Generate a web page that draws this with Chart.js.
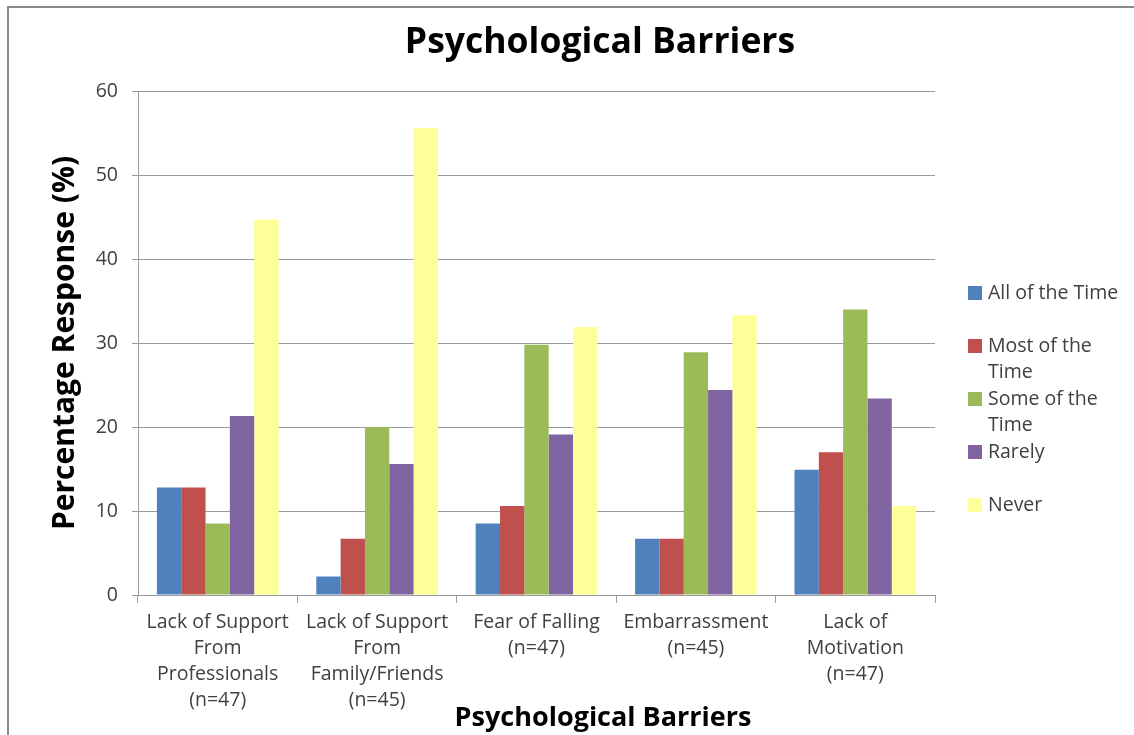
<!DOCTYPE html>
<html>
<head>
<meta charset="utf-8">
<script src="https://cdn.jsdelivr.net/npm/chart.js@4"></script>
<style>
  html, body { margin: 0; padding: 0; background: #fff; }
  #wrap { position: relative; width: 1134px; height: 735px; }
</style>
</head>
<body>
<div id="wrap"><canvas id="barreirasChart" width="1134" height="735"></canvas></div>
<script>
// Categorias (rótulos do eixo X, em várias linhas)
const categories = [
    ['Lack of Support', 'From', 'Professionals', '(n=47)'],
    ['Lack of Support', 'From', 'Family/Friends', '(n=45)'],
    ['Fear of Falling', '(n=47)'],
    ['Embarrassment', '(n=45)'],
    ['Lack of', 'Motivation', '(n=47)'],
];

// Séries (% de respostas)
const seriesNames = ['All of the Time', 'Most of the Time', 'Some of the Time', 'Rarely', 'Never'];
const allOfTheTime = [12.8, 2.2, 8.5, 6.7, 14.9];
const mostOfTheTime = [12.8, 6.7, 10.6, 6.7, 17.0];
const someOfTheTime = [8.5, 20.0, 29.8, 28.9, 34.0];
const rarely = [21.3, 15.6, 19.1, 24.4, 23.4];
const never = [44.7, 55.6, 31.9, 33.3, 10.6];

const yTicks = [0, 10, 20, 30, 40, 50, 60];

const chartTitle = 'Psychological Barriers';
const xTitle = 'Psychological Barriers';
const yTitle = 'Percentage Response (%)';

// Cores do tema
const themeColors = {
    blue: '#4f81bd',
    red: '#c0504d',
    green: '#9bbb59',
    purple: '#8064a2',
    yellow: '#ffff99',
    grid: '#9a9a9a',
    text: '#404040',
    frame: '#8a8a8a',
};

const fontFamily = '"Open Sans", "Noto Sans", sans-serif';
const labelSize = 19.5;

// Quebra o texto da legenda em linhas pela largura
function wrapText(ctx, text, maxWidth) {
    const words = text.split(' ');
    const lines = [];
    let line = '';
    words.forEach((w) => {
        const test = line ? line + ' ' + w : w;
        if (ctx.measureText(test).width > maxWidth && line) {
            lines.push(line);
            line = w;
        } else {
            line = test;
        }
    });
    if (line) lines.push(line);
    return lines;
}

// Moldura, títulos e legenda desenhados à parte
const extrasPlugin = {
    id: 'extras',
    afterDraw(chart) {
        const ctx = chart.ctx;
        ctx.save();

        // moldura (só topo e esquerda aparecem)
        ctx.strokeStyle = themeColors.frame;
        ctx.lineWidth = 2;
        ctx.beginPath();
        ctx.moveTo(8, 740);
        ctx.lineTo(8, 7);
        ctx.lineTo(1140, 7);
        ctx.stroke();

        ctx.fillStyle = '#000';
        ctx.textAlign = 'center';
        ctx.textBaseline = 'middle';
        ctx.font = 'bold 35.5px ' + fontFamily;
        ctx.fillText(chartTitle, 600, 43);

        ctx.font = 'bold 27px ' + fontFamily;
        ctx.fillText(xTitle, 603, 718);

        // legenda
        ctx.font = labelSize + 'px ' + fontFamily;
        ctx.textAlign = 'left';
        chart.data.datasets.forEach((ds, i) => {
            const y0 = 293 + i * 53;
            ctx.fillStyle = ds.backgroundColor;
            ctx.fillRect(968, y0 - 7, 14, 14);
            ctx.fillStyle = themeColors.text;
            wrapText(ctx, ds.label, 142).forEach((ln, j) => {
                ctx.fillText(ln, 988, y0 + j * 26);
            });
        });

        ctx.restore();
    }
};

function initBarreirasChart() {
    const ctx = document.getElementById('barreirasChart');

    const makeSet = (label, data, color) => ({
        label: label,
        data: data,
        backgroundColor: color,
        borderWidth: 0,
        barPercentage: 1.0,
        categoryPercentage: 0.763,
    });

    new Chart(ctx, {
        type: 'bar',
        data: {
            labels: categories,
            datasets: [
                makeSet(seriesNames[0], allOfTheTime, themeColors.blue),
                makeSet(seriesNames[1], mostOfTheTime, themeColors.red),
                makeSet(seriesNames[2], someOfTheTime, themeColors.green),
                makeSet(seriesNames[3], rarely, themeColors.purple),
                makeSet(seriesNames[4], never, themeColors.yellow),
            ]
        },
        options: {
            responsive: false,
            animation: false,
            layout: {
                padding: { left: 0, top: 91, right: 199, bottom: 0 }
            },
            plugins: {
                legend: { display: false },
                title: { display: false },
                tooltip: { enabled: false },
            },
            scales: {
                x: {
                    afterFit: (scale) => { scale.height = 140; },
                    grid: {
                        drawOnChartArea: false,
                        drawTicks: true,
                        tickLength: 8,
                        color: themeColors.grid,
                    },
                    border: { color: themeColors.grid },
                    ticks: {
                        color: themeColors.text,
                        padding: 6,
                        maxRotation: 0,
                        autoSkip: false,
                        font: { family: fontFamily, size: labelSize, lineHeight: 26 / labelSize },
                    }
                },
                y: {
                    min: 0,
                    max: 60,
                    afterFit: (scale) => { scale.width = 138; },
                    afterBuildTicks: (scale) => {
                        scale.ticks = yTicks.map((v) => ({ value: v }));
                    },
                    grid: {
                        color: themeColors.grid,
                        tickLength: 6,
                    },
                    border: { color: themeColors.grid },
                    ticks: {
                        color: themeColors.text,
                        padding: 14,
                        font: { family: fontFamily, size: labelSize },
                    },
                    title: {
                        display: true,
                        text: yTitle,
                        color: '#000',
                        padding: { top: 47, bottom: 0 },
                        font: { family: fontFamily, size: 30, weight: 'bold' },
                    }
                }
            }
        },
        plugins: [extrasPlugin]
    });
}

initBarreirasChart();
</script>
</body>
</html>
